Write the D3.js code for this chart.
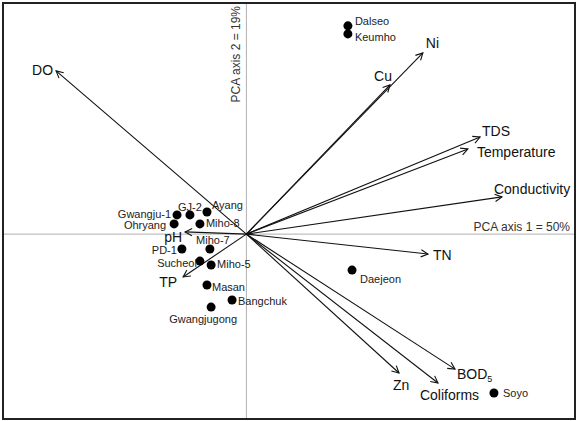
<!DOCTYPE html>
<html><head><meta charset="utf-8">
<script src="https://cdn.jsdelivr.net/npm/d3@7"></script>
<style>
html,body{margin:0;padding:0;background:#fff;}
svg{display:block;font-family:"Liberation Sans",Arial,sans-serif;}
</style></head>
<body>
<svg id="chart" width="580" height="421"></svg>
<script>
// ---- data ----
const variables = ["DO","Ni","Cu","TDS","Temperature","Conductivity","TN","BOD5","Coliforms","Zn","pH","TP"];
const varPC1 = [-0.782, 0.725, 0.590, 0.960, 0.910, 1.050, 0.746, 0.857, 0.787, 0.627, -0.252, -0.260];
const varPC2 = [ 0.671, 0.745, 0.613, 0.399, 0.350, 0.153, -0.082, -0.555, -0.612, -0.571, 0.009, -0.176];

const sites = ["Dalseo","Keumho","Daejeon","Soyo","Ayang","GJ-2","Gwangju-1","Ohryang","Miho-8","Miho-7","PD-1","Sucheol","Miho-5","Masan","Bangchuk","Gwangjugong"];
const sitePC1 = [0.417, 0.417, 0.434, 1.017, -0.162, -0.232, -0.285, -0.297, -0.191, -0.150, -0.265, -0.191, -0.145, -0.162, -0.059, -0.145];
const sitePC2 = [0.856, 0.823, -0.148, -0.653, 0.091, 0.079, 0.079, 0.042, 0.042, -0.061, -0.061, -0.111, -0.127, -0.209, -0.271, -0.300];

const axis1Label = "PCA axis 1 = 50%";
const axis2Label = "PCA axis 2 = 19%";

// ---- layout ----
const L = 3, R = 575, T = 3, B = 419;
const x = d3.scaleLinear().domain([-1, 1.35]).range([L, R]);
const y = d3.scaleLinear().domain([-0.76, 0.95]).range([B, T]);

// label placement (dx, dy, anchor) for variable arrows
const varLabelPos = {
  "DO":[-3,4,"end"], "Ni":[3,-5,"start"], "Cu":[2,-4,"end"], "TDS":[2,-1,"start"],
  "Temperature":[9,8,"start"], "Conductivity":[-8,-3,"start"], "TN":[5,6,"start"],
  "BOD5":[2,10,"start"], "Coliforms":[-18,17,"start"], "Zn":[-6,17,"start"],
  "pH":[-3,10,"end"], "TP":[-6,10,"end"]
};
const siteLabelPos = {
  "Dalseo":[7,-1,"start"], "Keumho":[7,7,"start"], "Daejeon":[8,13,"start"], "Soyo":[9,4,"start"],
  "Ayang":[5,-3,"start"], "GJ-2":[0,-4,"middle"], "Gwangju-1":[-6,3,"end"], "Ohryang":[-8,5,"end"],
  "Miho-8":[6,3,"start"], "Miho-7":[3,-5,"middle"], "PD-1":[-5,5,"end"], "Sucheol":[-3,6,"end"],
  "Miho-5":[6,3,"start"], "Masan":[5,6,"start"], "Bangchuk":[6,5,"start"], "Gwangjugong":[-8,16,"middle"]
};

const svg = d3.select("#chart");

svg.append("defs").append("marker")
  .attr("id","arr").attr("markerUnits","userSpaceOnUse")
  .attr("viewBox","-10 -6 12 12").attr("refX",0).attr("refY",0)
  .attr("markerWidth",12).attr("markerHeight",12).attr("orient","auto")
  .append("path").attr("d","M-7,-3.6 L0,0 L-7,3.6")
  .attr("fill","none").attr("stroke","#111").attr("stroke-width",1.1);

// zero axes
svg.append("line").attr("x1",L).attr("x2",R).attr("y1",y(0)).attr("y2",y(0))
  .attr("stroke","#b0b0b0").attr("stroke-width",1);
svg.append("line").attr("x1",x(0)).attr("x2",x(0)).attr("y1",T).attr("y2",B)
  .attr("stroke","#b0b0b0").attr("stroke-width",1);

// axis labels
svg.append("text").attr("x",570).attr("y",231).attr("text-anchor","end")
  .attr("font-size",12).attr("fill","#333").text(axis1Label);
svg.append("text").attr("transform",`translate(${x(0)-6},6) rotate(-90)`)
  .attr("text-anchor","end").attr("font-size",12).attr("fill","#333").text(axis2Label);

// arrows
const vars = variables.map((v,i)=>({name:v, px:varPC1[i], py:varPC2[i]}));
svg.append("g").selectAll("line").data(vars).join("line")
  .attr("x1",x(0)).attr("y1",y(0))
  .attr("x2",d=>x(d.px)).attr("y2",d=>y(d.py))
  .attr("stroke","#111").attr("stroke-width",1.1)
  .attr("marker-end","url(#arr)");

const vl = svg.append("g").selectAll("text").data(vars).join("text")
  .attr("x",d=>x(d.px)+varLabelPos[d.name][0])
  .attr("y",d=>y(d.py)+varLabelPos[d.name][1])
  .attr("text-anchor",d=>varLabelPos[d.name][2])
  .attr("font-size",14).attr("fill","#111");
vl.each(function(d){
  const t = d3.select(this);
  if (d.name === "BOD5") {
    t.append("tspan").text("BOD");
    t.append("tspan").attr("font-size",9).attr("dy",3).text("5");
  } else t.text(d.name);
});

// sites
const pts = sites.map((s,i)=>({name:s, px:sitePC1[i], py:sitePC2[i]}));
svg.append("g").selectAll("circle").data(pts).join("circle")
  .attr("cx",d=>x(d.px)).attr("cy",d=>y(d.py)).attr("r",4.5).attr("fill","#000");
svg.append("g").selectAll("text").data(pts).join("text")
  .attr("x",d=>x(d.px)+siteLabelPos[d.name][0])
  .attr("y",d=>y(d.py)+siteLabelPos[d.name][1])
  .attr("text-anchor",d=>siteLabelPos[d.name][2])
  .attr("font-size",11).attr("fill","#222").text(d=>d.name);

// frame
svg.append("rect").attr("x",L).attr("y",T).attr("width",R-L).attr("height",B-T)
  .attr("fill","none").attr("stroke","#222").attr("stroke-width",2);
</script>
</body></html>
